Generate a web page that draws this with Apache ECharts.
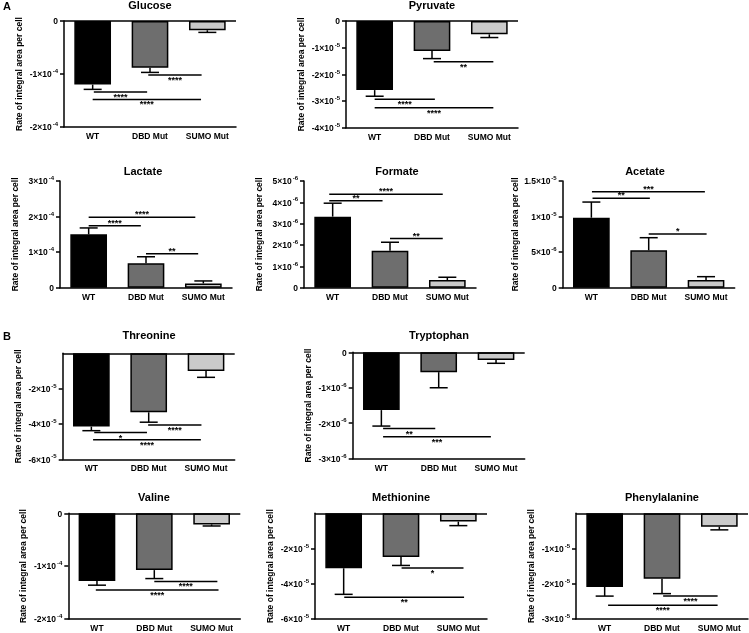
<!DOCTYPE html>
<html>
<head>
<meta charset="utf-8">
<script src="https://cdn.jsdelivr.net/npm/echarts@6/dist/echarts.min.js"></script>
<style>html,body{margin:0;padding:0;background:#fff}#c{width:749px;height:633px}</style>
</head>
<body>
<div id="c"></div>
<script>
// ---------------- DATA ----------------
const categories = ['WT', 'DBD Mut', 'SUMO Mut'];
const panelNames = ['Glucose', 'Pyruvate', 'Lactate', 'Formate', 'Acetate',
  'Threonine', 'Tryptophan', 'Valine', 'Methionine', 'Phenylalanine'];
const yAxisName = 'Rate of integral area per cell';

const glucoseMean = [-1.2e-4, -0.88e-4, -0.175e-4];
const glucoseErr = [0.09e-4, 0.09e-4, 0.04e-4];
const glucoseAxis = [-2e-4, 0, 1e-4];
const glucoseSig = [[0.02, 0.95, -1.34e-4, '****'], [0.97, 1.9, -1.02e-4, '****'], [0.0, 1.89, -1.48e-4, '****']];

const pyruvateMean = [-2.59e-5, -1.12e-5, -0.5e-5];
const pyruvateErr = [0.23e-5, 0.29e-5, 0.12e-5];
const pyruvateAxis = [-4e-5, 0, 1e-5];
const pyruvateSig = [[1.03, 2.07, -1.53e-5, '**'], [0.0, 1.05, -2.93e-5, '****'], [0.0, 2.07, -3.25e-5, '****']];

const lactateMean = [1.5e-4, 0.69e-4, 0.12e-4];
const lactateErr = [0.18e-4, 0.18e-4, 0.07e-4];
const lactateAxis = [0, 3e-4, 1e-4];
const lactateSig = [[0.0, 0.91, 1.74e-4, '****'], [0.0, 1.86, 1.98e-4, '****'], [1.0, 1.91, 0.955e-4, '**']];

const formateMean = [3.33e-6, 1.73e-6, 0.36e-6];
const formateErr = [0.63e-6, 0.4e-6, 0.13e-6];
const formateAxis = [0, 5e-6, 1e-6];
const formateSig = [[-0.06, 0.87, 4.08e-6, '**'], [-0.06, 1.92, 4.38e-6, '****'], [1.0, 1.92, 2.3e-6, '**']];

const acetateMean = [9.84e-6, 5.26e-6, 1.08e-6];
const acetateErr = [2.2e-6, 1.77e-6, 0.47e-6];
const acetateAxis = [0, 1.5e-5, 5e-6];
const acetateSig = [[0.02, 1.02, 12.57e-6, '**'], [0.01, 1.98, 13.5e-6, '***'], [1.0, 2.01, 7.55e-6, '*']];

const threonineMean = [-4.15e-5, -3.34e-5, -1.0e-5];
const threonineErr = [0.23e-5, 0.56e-5, 0.36e-5];
const threonineAxis = [-6e-5, 0, 2e-5];
const threonineSig = [[0.99, 1.92, -4.06e-5, '****'], [0.05, 0.97, -4.49e-5, '*'], [0.03, 1.91, -4.9e-5, '****']];

const tryptophanMean = [-1.63e-6, -0.56e-6, -0.22e-6];
const tryptophanErr = [0.45e-6, 0.44e-6, 0.09e-6];
const tryptophanAxis = [-3e-6, 0, 1e-6];
const tryptophanSig = [[0.03, 0.94, -2.15e-6, '**'], [0.03, 1.91, -2.38e-6, '***']];

const valineMean = [-1.28e-4, -1.075e-4, -0.21e-4];
const valineErr = [0.08e-4, 0.16e-4, 0.03e-4];
const valineAxis = [-2e-4, 0, 1e-4];
const valineSig = [[1.0, 2.1, -1.29e-4, '****'], [-0.02, 2.12, -1.45e-4, '****']];

const methionineMean = [-3.12e-5, -2.48e-5, -0.47e-5];
const methionineErr = [1.48e-5, 0.48e-5, 0.23e-5];
const methionineAxis = [-6e-5, 0, 2e-5];
const methionineSig = [[1.01, 2.09, -3.1e-5, '*'], [0.01, 2.1, -4.77e-5, '**']];

const phenylalanineMean = [-2.09e-5, -1.86e-5, -0.38e-5];
const phenylalanineErr = [0.26e-5, 0.42e-5, 0.09e-5];
const phenylalanineAxis = [-3e-5, 0, 1e-5];
const phenylalanineSig = [[1.02, 1.97, -2.35e-5, '****'], [0.06, 1.97, -2.61e-5, '****']];

const zeroLabelShown = [true, true, true, true, true, false, true, true, false, false];

// ---------------- LAYOUT / STYLE ----------------
const means = [glucoseMean, pyruvateMean, lactateMean, formateMean, acetateMean,
  threonineMean, tryptophanMean, valineMean, methionineMean, phenylalanineMean];
const errs = [glucoseErr, pyruvateErr, lactateErr, formateErr, acetateErr,
  threonineErr, tryptophanErr, valineErr, methionineErr, phenylalanineErr];
const axes = [glucoseAxis, pyruvateAxis, lactateAxis, formateAxis, acetateAxis,
  threonineAxis, tryptophanAxis, valineAxis, methionineAxis, phenylalanineAxis];
const sigs = [glucoseSig, pyruvateSig, lactateSig, formateSig, acetateSig,
  threonineSig, tryptophanSig, valineSig, methionineSig, phenylalanineSig];

// left, top, width, height, titleX, titleY
const layout = [
  [64, 21, 172, 106, 150, 6],
  [346, 21, 172, 106.7, 432, 6],
  [60, 181, 172, 106.7, 143, 172],
  [304, 181, 172, 106.7, 397, 172],
  [562.7, 181, 172, 106.7, 645, 172],
  [62.7, 353.3, 172, 106, 149, 336],
  [352.7, 352.3, 172, 106.4, 439, 336],
  [68.3, 513.3, 172, 106.7, 154, 498],
  [315, 513.3, 172, 106.7, 401, 498],
  [576, 513.3, 172, 106.7, 662, 498]
];
const barColors = ['#000000', '#6e6e6e', '#cacaca'];
const FONT = 'Liberation Sans, Arial, Helvetica, sans-serif';
const LW = 1.5;

function sciLabel(v) {
  if (Math.abs(v) < 1e-20) return '{m|0}';
  const e = Math.floor(Math.log10(Math.abs(v)) + 1e-9);
  let m = Math.round(v / Math.pow(10, e) * 100) / 100;
  return '{m|' + m + '×10}{e|' + e + '}';
}

const grid = [], xAxis = [], yAxis = [], series = [], graphic = [];

layout.forEach((L, i) => {
  const [left, top, width, height, tx, ty] = L;
  const ax = axes[i];
  grid.push({ left: left, top: top, width: width, height: height, containLabel: false });
  xAxis.push({
    gridIndex: i, type: 'category', data: categories, position: 'bottom',
    axisLine: { onZero: false, lineStyle: { color: '#000', width: LW } },
    axisTick: { alignWithLabel: true, length: 4, lineStyle: { color: '#000', width: LW } },
    axisLabel: { color: '#000', fontSize: 8.5, fontWeight: 'bold', fontFamily: FONT, margin: 5 },
    splitLine: { show: false }
  });
  yAxis.push({
    gridIndex: i, type: 'value', min: ax[0], max: ax[1], interval: ax[2],
    axisLine: { show: true, onZero: false, lineStyle: { color: '#000', width: LW } },
    axisTick: { show: true, length: 4, lineStyle: { color: '#000', width: LW } },
    splitLine: { show: false },
    axisLabel: {
      margin: 6, formatter: sciLabel,
      showMaxLabel: ax[1] === 0 ? zeroLabelShown[i] : true,
      rich: {
        m: { fontSize: 8.5, fontWeight: 'bold', color: '#000', fontFamily: FONT, lineHeight: 11, verticalAlign: 'bottom' },
        e: { fontSize: 6, fontWeight: 'bold', color: '#000', fontFamily: FONT, verticalAlign: 'top', padding: [0, 0, 0, 1] }
      }
    },
    name: yAxisName, nameLocation: 'middle', nameRotate: 90, nameGap: 40,
    nameTextStyle: { color: '#000', fontSize: 8.5, fontWeight: 'bold', fontFamily: FONT }
  });

  const bar = {
    type: 'bar', xAxisIndex: i, yAxisIndex: i, barWidth: '64%',
    data: means[i].map((v, j) => ({ value: v, itemStyle: { color: barColors[j] } })),
    itemStyle: { borderColor: '#000', borderWidth: LW },
    z: 2, silent: true
  };
  if (ax[1] === 0) {
    bar.markLine = {
      silent: true, symbol: 'none', label: { show: false },
      lineStyle: { color: '#000', width: LW, type: 'solid' },
      data: [{ yAxis: 0 }], animation: false
    };
  }
  series.push(bar);

  series.push({
    type: 'custom', xAxisIndex: i, yAxisIndex: i, z: 3, silent: true,
    data: means[i].map((v, j) => [j, v, errs[i][j]]),
    encode: { x: 0, y: 1 },
    renderItem: function (params, api) {
      const j = api.value(0), v = api.value(1), e = api.value(2);
      const s = v < 0 ? -1 : 1;
      const p0 = api.coord([j, v]);
      const p1 = api.coord([j, v + s * e]);
      const half = 9;
      return {
        type: 'group', children: [
          { type: 'line', shape: { x1: p0[0], y1: p0[1], x2: p1[0], y2: p1[1] }, style: { stroke: '#000', lineWidth: LW } },
          { type: 'line', shape: { x1: p1[0] - half, y1: p1[1], x2: p1[0] + half, y2: p1[1] }, style: { stroke: '#000', lineWidth: LW } }
        ]
      };
    }
  });

  const sigData = sigs[i];
  series.push({
    type: 'custom', xAxisIndex: i, yAxisIndex: i, z: 4, silent: true,
    data: sigData.map((s, k) => [s[0], s[1], s[2], k]),
    encode: { y: 2 },
    renderItem: function (params, api) {
      const x1 = api.value(0), x2 = api.value(1), y = api.value(2);
      const base = api.coord([0, y]);
      const band = api.size([1, 0])[0];
      const a = base[0] + x1 * band, b = base[0] + x2 * band;
      const lbl = sigData[params.dataIndex][3];
      const below = y < 0;
      return {
        type: 'group', children: [
          { type: 'line', shape: { x1: a, y1: base[1], x2: b, y2: base[1] }, style: { stroke: '#000', lineWidth: LW } },
          { type: 'text', x: (a + b) / 2, y: base[1] + (below ? 5.5 : -2.5),
            style: { text: lbl, fill: '#000', font: 'bold 9px ' + FONT, textAlign: 'center', textVerticalAlign: 'middle' } }
        ]
      };
    }
  });

  graphic.push({
    type: 'text', x: tx, y: ty,
    style: { text: panelNames[i], fill: '#000', font: 'bold 11px ' + FONT, textAlign: 'center', textVerticalAlign: 'middle' }
  });
});

graphic.push({ type: 'text', x: 3, y: 7, style: { text: 'A', fill: '#000', font: 'bold 11px ' + FONT, textAlign: 'left', textVerticalAlign: 'middle' } });
graphic.push({ type: 'text', x: 3, y: 337, style: { text: 'B', fill: '#000', font: 'bold 11px ' + FONT, textAlign: 'left', textVerticalAlign: 'middle' } });

const chart = echarts.init(document.getElementById('c'), null, { renderer: 'canvas' });
chart.setOption({
  animation: false,
  backgroundColor: '#ffffff',
  grid: grid, xAxis: xAxis, yAxis: yAxis, series: series, graphic: graphic
});
</script>
</body>
</html>
